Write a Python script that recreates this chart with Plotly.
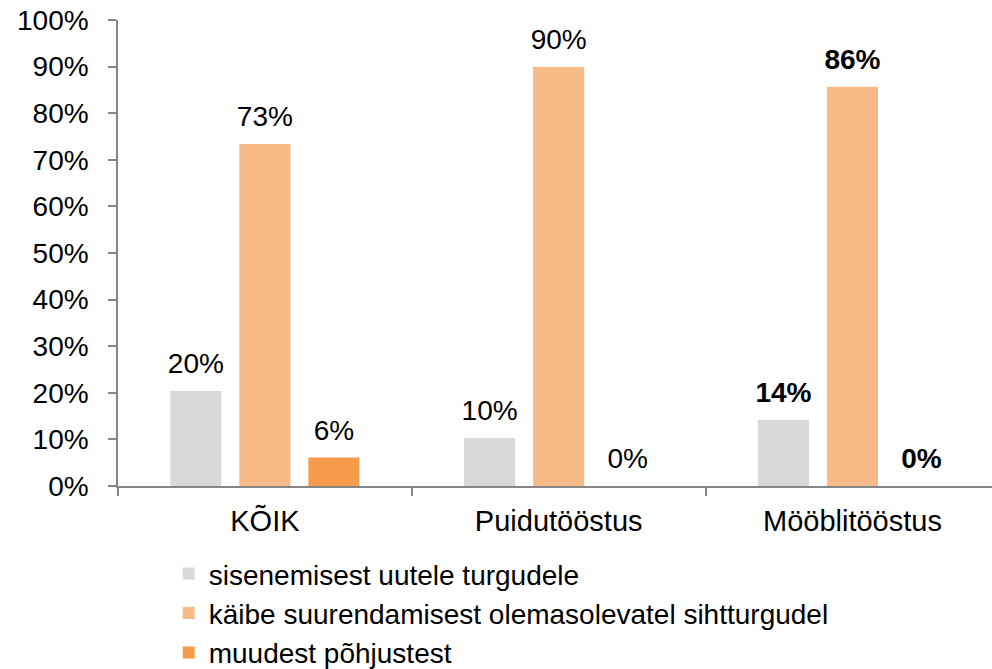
import plotly.graph_objects as go

categories = ["KÕIK", "Puidutööstus", "Mööblitööstus"]
series_names = [
    "sisenemisest uutele turgudele",
    "käibe suurendamisest olemasolevatel sihtturgudel",
    "muudest põhjustest",
]
values_new_markets = [20.4, 10.3, 14.2]
values_existing = [73.4, 89.9, 85.7]
values_other = [6.1, 0.0, 0.0]
labels_new_markets = ["20%", "10%", "<b>14%</b>"]
labels_existing = ["73%", "90%", "<b>86%</b>"]
labels_other = ["6%", "0%", "<b>0%</b>"]
y_ticks = [0, 10, 20, 30, 40, 50, 60, 70, 80, 90, 100]
y_tick_labels = ["0%", "10%", "20%", "30%", "40%", "50%", "60%", "70%", "80%", "90%", "100%"]

colors = ["#D9D9D9", "#F8BB87", "#F79C4D"]
FONT = "Liberation Sans, Arial, sans-serif"

series = [
    (series_names[0], values_new_markets, labels_new_markets, colors[0]),
    (series_names[1], values_existing, labels_existing, colors[1]),
    (series_names[2], values_other, labels_other, colors[2]),
]

fig = go.Figure()
for name, vals, labs, col in series:
    fig.add_trace(go.Bar(
        x=categories, y=vals, name=name,
        marker=dict(color=col, line=dict(width=0)),
        hoverinfo="skip",
    ))
for name, vals, labs, col in series:
    fig.add_trace(go.Scatter(
        x=categories, y=vals, mode="markers+text",
        text=labs, textposition="top center",
        textfont=dict(family=FONT, size=28, color="#000000"),
        marker=dict(size=16, opacity=0, color=col),
        showlegend=False, hoverinfo="skip", cliponaxis=False,
    ))

fig.update_layout(
    width=992, height=669,
    margin=dict(l=118, r=0, t=20, b=183, autoexpand=False),
    paper_bgcolor="white", plot_bgcolor="white",
    barmode="group", bargap=0.295, bargroupgap=0.26,
    scattermode="group", scattergap=0.295,
    font=dict(family=FONT, size=28, color="#000000"),
    showlegend=True,
    legend=dict(
        orientation="v", x=0.058, xanchor="left",
        yref="container", y=0.1795, yanchor="top",
        font=dict(family=FONT, size=28, color="#000000"),
        bgcolor="rgba(0,0,0,0)", traceorder="normal",
    ),
    xaxis=dict(
        type="category", range=[-0.5, 2.475],
        showline=True, linecolor="#868686", linewidth=1.5,
        ticks="outside", tickson="boundaries", ticklen=8, tickcolor="#868686", tickwidth=1.5,
        showgrid=False, zeroline=False, ticklabelstandoff=8,
        tickfont=dict(family=FONT, size=29, color="#000000"),
    ),
    yaxis=dict(
        range=[0, 100], tickvals=y_ticks, ticktext=y_tick_labels,
        showline=True, linecolor="#868686", linewidth=1.5,
        ticks="outside", ticklen=8, tickcolor="#868686", tickwidth=1.5,
        showgrid=False, zeroline=False, ticklabelstandoff=14,
        tickfont=dict(family=FONT, size=28, color="#000000"),
    ),
)

fig.write_html(
    "out.html",
    config={"displayModeBar": False},
    post_script="document.body.style.margin='0';document.body.style.overflow='hidden';",
)
